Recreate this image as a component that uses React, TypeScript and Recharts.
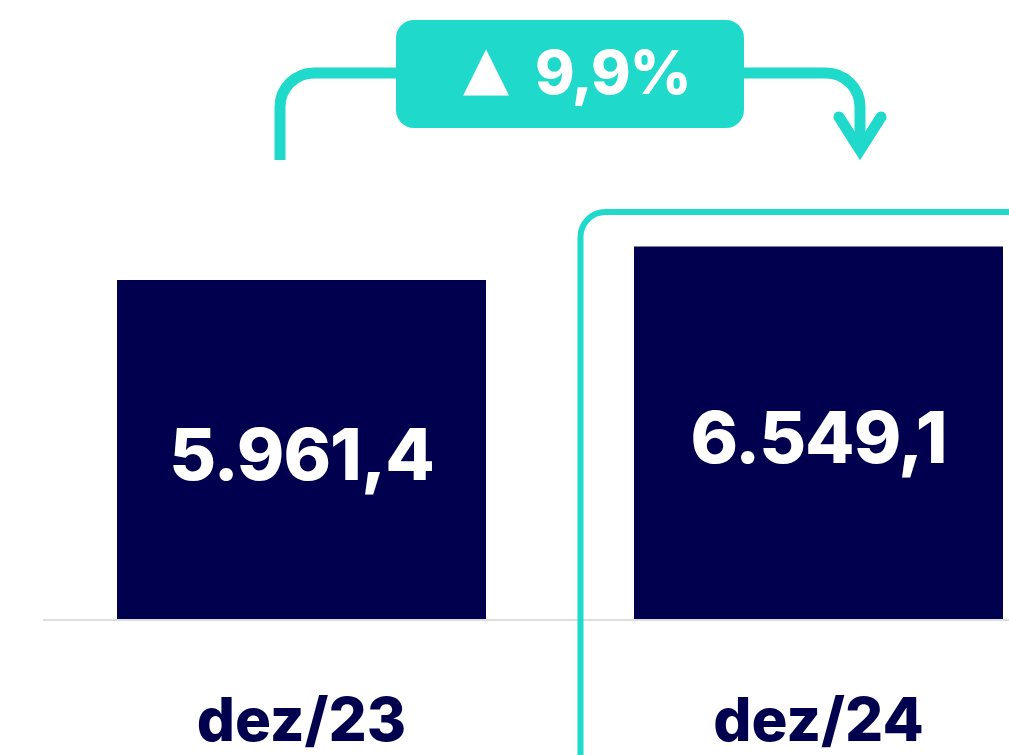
import React from "react";
import { BarChart, Bar, XAxis, YAxis, LabelList } from "recharts";

const categories = ["dez/23", "dez/24"];
const values = [5961.4, 6549.1];

const NAVY = "#00004f";
const TEAL = "#1fd9cb";
const FONT = "Inter, 'Open Sans', sans-serif";

const data = categories.map((c, i) => ({ name: c, value: values[i] }));

const fmt = (v: number) => {
  const [int, dec] = v.toFixed(1).split(".");
  return int.replace(/\B(?=(\d{3})+(?!\d))/g, ".") + "," + dec;
};

const growth = ((values[1] / values[0] - 1) * 100).toFixed(1).replace(".", ",") + "%";

const Tick = (props: any) => {
  const { x, y, payload } = props;
  return (
    <text x={x} y={y + 113} textAnchor="middle" fill={NAVY} fontFamily={FONT} fontWeight={800} fontSize={60}>
      {payload.value}
    </text>
  );
};

const BarLabel = (props: any) => {
  const { x, y, width, height, value } = props;
  return (
    <text
      x={x + width / 2}
      y={y + height / 2 + 30}
      textAnchor="middle"
      fill="#ffffff"
      fontFamily={FONT}
      fontWeight={800}
      fontSize={72}
      letterSpacing={-1}
    >
      {fmt(value)}
    </text>
  );
};

export default function App() {
  return (
    <div style={{ position: "absolute", left: 0, top: 0, width: 1009, height: 755, overflow: "hidden", background: "#fff" }}>
      <BarChart width={1077} height={755} data={data} margin={{ top: 20, right: 0, bottom: 0, left: 43 }}>
        <YAxis hide domain={[0, 10520]} />
        <XAxis
          dataKey="name"
          height={135}
          axisLine={{ stroke: "#dddddd", strokeWidth: 2 }}
          tickLine={false}
          tick={<Tick />}
        />
        <Bar dataKey="value" fill={NAVY} barSize={369} isAnimationActive={false}>
          <LabelList dataKey="value" content={<BarLabel />} />
        </Bar>
      </BarChart>
      <svg width={1009} height={755} style={{ position: "absolute", left: 0, top: 0, pointerEvents: "none" }}>
        <path d="M280,160 L280,107 A34,34 0 0 1 314,73 L400,73" fill="none" stroke={TEAL} strokeWidth={11} />
        <path d="M740,73 L826,73 A34,34 0 0 1 860,107 L860,150" fill="none" stroke={TEAL} strokeWidth={11} />
        <path d="M839,117 L860,150 L881,117" fill="none" stroke={TEAL} strokeWidth={11} strokeLinecap="round" strokeLinejoin="miter" />
        <rect x={396} y={20} width={348} height={108} rx={18} fill={TEAL} />
        <text x={486} y={88} textAnchor="middle" fill="#fff" fontFamily="DejaVu Sans" fontSize={60}>▲</text>
        <text x={535} y={94} fill="#fff" fontFamily={FONT} fontWeight={800} fontSize={60} letterSpacing={-1}>{growth}</text>
        <path d="M580.5,760 L580.5,237 A25,25 0 0 1 605.5,212 L1012,212" fill="none" stroke={TEAL} strokeWidth={6} />
      </svg>
    </div>
  );
}
